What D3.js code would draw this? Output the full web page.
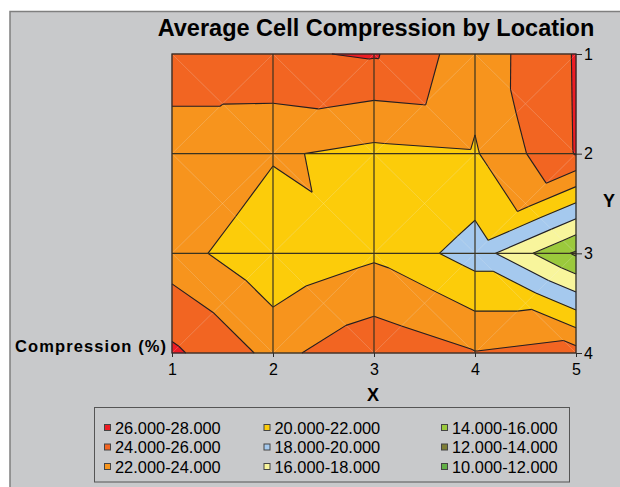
<!DOCTYPE html>
<html>
<head>
<meta charset="utf-8">
<script src="https://cdn.jsdelivr.net/npm/d3@7"></script>
<style>
  body { margin: 0; background: #fff; }
  text { font-family: "Liberation Sans", Arial, sans-serif; fill: #000; }
</style>
</head>
<body>
<svg id="chart" width="620" height="487"></svg>
<script>
// grid positions
const xValues = [1, 2, 3, 4, 5];
const yValues = [1, 2, 3, 4];

// compression (%) at each grid node, one array per Y row
const row1 = [24.22, 25.72, 26.2, 22.82, 26.15];
const row2 = [23.8, 22.24, 21.47, 21.81, 26.1];
const row3 = [22.94, 20.3, 21.65, 19.1, 13.7];
const row4 = [26.4, 23.45, 25.37, 24.1, 24.8];

// value at the middle of each cell (where the diagonals cross)
const centerRow1 = [24.01, 24.2, 24.05, 24.5];
const centerRow2 = [22.6, 21.93, 21.7, 22.55];
const centerRow3 = [23.45, 22.9, 22.85, 21.6];

// contour bands
const bandLows = [10, 12, 14, 16, 18, 20, 22, 24, 26];
const bandColors = ["#62b046", "#7d7d34", "#9bc93c", "#f8f59c", "#a5c9ee", "#fccc0a", "#f7941d", "#f26522", "#ed1c24"];
const bandStep = 2;
const legendOrder = [26, 24, 22, 20, 18, 16, 14, 12, 10];

const grid = [row1, row2, row3, row4];
const centers = [centerRow1, centerRow2, centerRow3];

const svg = d3.select("#chart");
const W = 620, H = 487;

// chart area
svg.append("rect")
  .attr("x", 10).attr("y", 11.5)
  .attr("width", W).attr("height", H)
  .attr("fill", "#c8c9cb")
  .attr("stroke", "#7f7f7f")
  .attr("stroke-width", 1.5);

const xScale = d3.scaleLinear().domain([1, 5]).range([172, 576]);
const yScale = d3.scaleLinear().domain([1, 4]).range([54, 353]);

const colorOf = (lo) => bandColors[bandLows.indexOf(lo)];

// split every cell into 4 triangles around its centre
const triangles = [];
for (let j = 0; j < yValues.length - 1; j++) {
  for (let i = 0; i < xValues.length - 1; i++) {
    const tl = { x: xValues[i], y: yValues[j], v: grid[j][i] };
    const tr = { x: xValues[i + 1], y: yValues[j], v: grid[j][i + 1] };
    const br = { x: xValues[i + 1], y: yValues[j + 1], v: grid[j + 1][i + 1] };
    const bl = { x: xValues[i], y: yValues[j + 1], v: grid[j + 1][i] };
    const c = { x: (tl.x + tr.x) / 2, y: (tl.y + bl.y) / 2, v: centers[j][i] };
    triangles.push([c, tl, tr], [c, tr, br], [c, br, bl], [c, bl, tl]);
  }
}

const lerp = (a, b, level) => {
  const t = (level - a.v) / (b.v - a.v);
  return { x: a.x + t * (b.x - a.x), y: a.y + t * (b.y - a.y), v: level };
};

// keep the part of a polygon where sign*(v-level) >= 0
const clip = (poly, level, sign) => {
  const out = [];
  for (let k = 0; k < poly.length; k++) {
    const a = poly[k], b = poly[(k + 1) % poly.length];
    const ina = sign * (a.v - level) >= 0, inb = sign * (b.v - level) >= 0;
    if (ina) out.push(a);
    if (ina !== inb) out.push(lerp(a, b, level));
  }
  return out;
};

const plot = svg.append("g");
const toPath = (poly) => "M" + poly.map((p) => `${xScale(p.x)},${yScale(p.y)}`).join("L") + "Z";

triangles.forEach((tri) => {
  bandLows.forEach((lo) => {
    let poly = clip(tri, lo, 1);
    if (poly.length > 2) poly = clip(poly, lo + bandStep, -1);
    if (poly.length > 2) {
      plot.append("path")
        .attr("d", toPath(poly))
        .attr("fill", colorOf(lo))
        .attr("stroke", colorOf(lo))
        .attr("stroke-width", 0.6);
    }
  });
});

// faint cell diagonals
for (let j = 0; j < yValues.length - 1; j++) {
  for (let i = 0; i < xValues.length - 1; i++) {
    [[xValues[i], yValues[j], xValues[i + 1], yValues[j + 1]],
     [xValues[i + 1], yValues[j], xValues[i], yValues[j + 1]]].forEach((d) => {
      plot.append("line")
        .attr("x1", xScale(d[0])).attr("y1", yScale(d[1]))
        .attr("x2", xScale(d[2])).attr("y2", yScale(d[3]))
        .attr("stroke", "#ffffff").attr("stroke-opacity", 0.16).attr("stroke-width", 1);
    });
  }
}

// contour lines
const levels = bandLows.slice(1);
triangles.forEach((tri) => {
  levels.forEach((level) => {
    const pts = [];
    for (let k = 0; k < 3; k++) {
      const a = tri[k], b = tri[(k + 1) % 3];
      if ((a.v - level) * (b.v - level) < 0) pts.push(lerp(a, b, level));
    }
    if (pts.length === 2) {
      plot.append("line")
        .attr("x1", xScale(pts[0].x)).attr("y1", yScale(pts[0].y))
        .attr("x2", xScale(pts[1].x)).attr("y2", yScale(pts[1].y))
        .attr("stroke", "#231f20").attr("stroke-width", 1.1);
    }
  });
});

// grid lines
plot.selectAll(".vgrid").data(xValues.slice(1, -1)).join("line")
  .attr("x1", (d) => xScale(d)).attr("x2", (d) => xScale(d))
  .attr("y1", yScale(1)).attr("y2", yScale(4))
  .attr("stroke", "#3a3320").attr("stroke-width", 1.2);
plot.selectAll(".hgrid").data(yValues.slice(1, -1)).join("line")
  .attr("y1", (d) => yScale(d)).attr("y2", (d) => yScale(d))
  .attr("x1", xScale(1)).attr("x2", xScale(5))
  .attr("stroke", "#3a3320").attr("stroke-width", 1.2);
plot.append("rect")
  .attr("x", xScale(1)).attr("y", yScale(1))
  .attr("width", xScale(5) - xScale(1)).attr("height", yScale(4) - yScale(1))
  .attr("fill", "none").attr("stroke", "#2b2b2b").attr("stroke-width", 1.3);

// axes
const xAxis = d3.axisBottom(xScale).tickValues(xValues).tickFormat(d3.format("d")).tickSize(4).tickPadding(7);
const yAxis = d3.axisRight(yScale).tickValues(yValues).tickFormat(d3.format("d")).tickSize(6).tickPadding(2);
const gx = svg.append("g").attr("transform", `translate(0,${yScale(4)})`).call(xAxis);
const gy = svg.append("g").attr("transform", `translate(${xScale(5)},0)`).call(yAxis);
[gx, gy].forEach((g) => {
  g.select(".domain").remove();
  g.selectAll("line").attr("stroke", "#2b2b2b");
  g.selectAll("text").style("font-size", "16px").style("font-family", "Liberation Sans, Arial, sans-serif");
});

// titles
svg.append("text").attr("x", 376).attr("y", 36).attr("text-anchor", "middle")
  .style("font-size", "23.5px").style("font-weight", "bold")
  .text("Average Cell Compression by Location");
svg.append("text").attr("x", 373).attr("y", 401).attr("text-anchor", "middle")
  .style("font-size", "18px").style("font-weight", "bold").text("X");
svg.append("text").attr("x", 609).attr("y", 207).attr("text-anchor", "middle")
  .style("font-size", "18px").style("font-weight", "bold").text("Y");
svg.append("text").attr("x", 15).attr("y", 352)
  .style("font-size", "16.5px").style("font-weight", "bold").style("letter-spacing", "1.1px")
  .text("Compression (%)");

// legend
const legend = svg.append("g");
legend.append("rect").attr("x", 94.5).attr("y", 407.5).attr("width", 475).attr("height", 74.5)
  .attr("fill", "none").attr("stroke", "#555").attr("stroke-width", 1);
const colX = [104, 263.5, 441];
const rowY = [428, 447.5, 467];
const fmt = d3.format(".3f");
legendOrder.forEach((lo, k) => {
  const cx = colX[Math.floor(k / 3)], cy = rowY[k % 3];
  legend.append("rect").attr("x", cx + 0.5).attr("y", cy - 3.5).attr("width", 6).attr("height", 6)
    .attr("fill", colorOf(lo)).attr("stroke", "#444").attr("stroke-width", 1);
  legend.append("text").attr("x", cx + 11).attr("y", cy + 5.5)
    .style("font-size", "16.4px")
    .text(`${fmt(lo)}-${fmt(lo + bandStep)}`);
});
</script>
</body>
</html>
